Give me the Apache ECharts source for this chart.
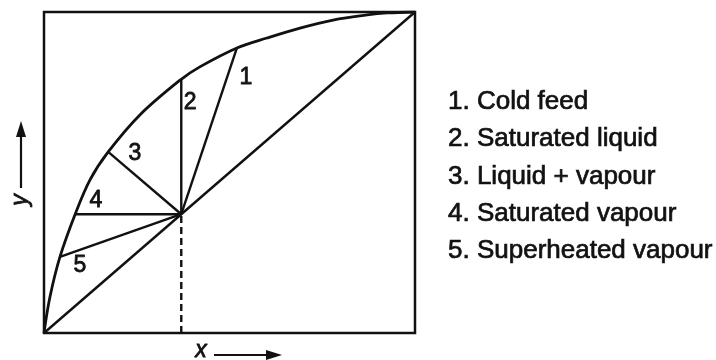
<!DOCTYPE html>
<html>
<head>
<meta charset="utf-8">
<title>q-line feed conditions on the x–y diagram</title>
<script src="https://cdn.jsdelivr.net/npm/echarts@6/dist/echarts.min.js"></script>
<style>
  html, body { margin: 0; padding: 0; background: #fff; }
  #chart { width: 716px; height: 360px; }
</style>
</head>
<body>
<div id="chart"></div>
<script>
// Equilibrium curve (mole fraction of light component: liquid x, vapour y)
const equilibriumX = [0, 0.016, 0.043, 0.084, 0.124, 0.173, 0.259, 0.367, 0.42, 0.52, 0.601, 0.69, 0.779, 0.871, 0.925, 1];
const equilibriumY = [0, 0.112, 0.237, 0.37, 0.477, 0.564, 0.68, 0.788, 0.829, 0.888, 0.919, 0.95, 0.975, 0.991, 0.997, 1];

// Feed composition, lying on the 45° diagonal
const feedX = 0.37;

// Where each q-line meets the equilibrium curve (1..5)
const qEndX = [0.52, 0.37, 0.173, 0.084, 0.043];
const qEndY = [0.888, 0.788, 0.564, 0.37, 0.237];

// Number tags beside each q-line
const tagText = ['1', '2', '3', '4', '5'];
const tagX = [0.544, 0.394, 0.245, 0.140, 0.097];
const tagY = [0.797, 0.717, 0.558, 0.411, 0.209];

// Key for the feed conditions
const legendText = ['1. Cold feed', '2. Saturated liquid', '3. Liquid + vapour', '4. Saturated vapour', '5. Superheated vapour'];

const INK = '#111';
const FONT = '"Liberation Sans", Arial, Helvetica, sans-serif';

const chart = echarts.init(document.getElementById('chart'), null, { renderer: 'canvas' });

const lineBase = {
  type: 'line',
  symbol: 'none',
  silent: true,
  animation: false,
  lineStyle: { color: INK, width: 2.4 }
};

const series = [];

// Equilibrium curve
series.push(Object.assign({}, lineBase, {
  smooth: 0.35,
  lineStyle: { color: INK, width: 2.8 },
  data: equilibriumX.map((x, i) => [x, equilibriumY[i]])
}));

// Diagonal y = x
series.push(Object.assign({}, lineBase, {
  data: [[0, 0], [1, 1]]
}));

// Dashed drop from the feed point to the x axis
series.push(Object.assign({}, lineBase, {
  lineStyle: { color: INK, width: 2.4, type: [7, 4] },
  data: [[feedX, 0], [feedX, feedX]]
}));

// q-lines from the feed point to the equilibrium curve
qEndX.forEach((x, i) => {
  series.push(Object.assign({}, lineBase, {
    data: [[feedX, feedX], [x, qEndY[i]]]
  }));
});

// Number tags
series.push({
  type: 'scatter',
  symbolSize: 0,
  silent: true,
  animation: false,
  itemStyle: { opacity: 1, color: INK },
  data: tagX.map((x, i) => ({ value: [x, tagY[i]], name: tagText[i] })),
  label: {
    show: true,
    position: 'inside',
    formatter: p => p.name,
    color: INK,
    opacity: 1,
    fontFamily: FONT,
    fontSize: 23,
    textBorderColor: INK,
    textBorderWidth: 0.8
  }
});

const graphics = [];

// y-axis caption with upward arrow
graphics.push({
  type: 'text', x: 21, y: 200, rotation: Math.PI / 2,
  style: { text: 'y', fill: INK, stroke: INK, lineWidth: 0.8, font: 'italic 23px ' + FONT, align: 'center', verticalAlign: 'middle' }
});
graphics.push({ type: 'line', shape: { x1: 21, y1: 188, x2: 21, y2: 132 }, style: { stroke: INK, lineWidth: 2.2 } });
graphics.push({ type: 'polygon', shape: { points: [[21, 121], [16, 137], [26, 137]] }, style: { fill: INK } });

// x-axis caption with rightward arrow
graphics.push({
  type: 'text', x: 201, y: 351,
  style: { text: 'x', fill: INK, stroke: INK, lineWidth: 0.8, font: 'italic 23px ' + FONT, align: 'center', verticalAlign: 'middle' }
});
graphics.push({ type: 'line', shape: { x1: 214, y1: 355, x2: 270, y2: 355 }, style: { stroke: INK, lineWidth: 2.2 } });
graphics.push({ type: 'polygon', shape: { points: [[282, 355], [266, 350], [266, 360]] }, style: { fill: INK } });

// Key entries
legendText.forEach((t, i) => {
  graphics.push({
    type: 'text', x: 448, y: 102 + i * 37.2,
    style: { text: t, fill: INK, stroke: INK, lineWidth: 0.7, font: '26px ' + FONT, align: 'left', verticalAlign: 'middle' }
  });
});

chart.setOption({
  backgroundColor: '#fff',
  animation: false,
  grid: {
    left: 44, right: 301, top: 12, bottom: 27,
    show: true, borderColor: INK, borderWidth: 2.5, backgroundColor: 'transparent'
  },
  xAxis: {
    type: 'value', min: 0, max: 1,
    axisLine: { show: false }, axisTick: { show: false },
    axisLabel: { show: false }, splitLine: { show: false }
  },
  yAxis: {
    type: 'value', min: 0, max: 1,
    axisLine: { show: false }, axisTick: { show: false },
    axisLabel: { show: false }, splitLine: { show: false }
  },
  series: series,
  graphic: graphics
});
</script>
</body>
</html>
